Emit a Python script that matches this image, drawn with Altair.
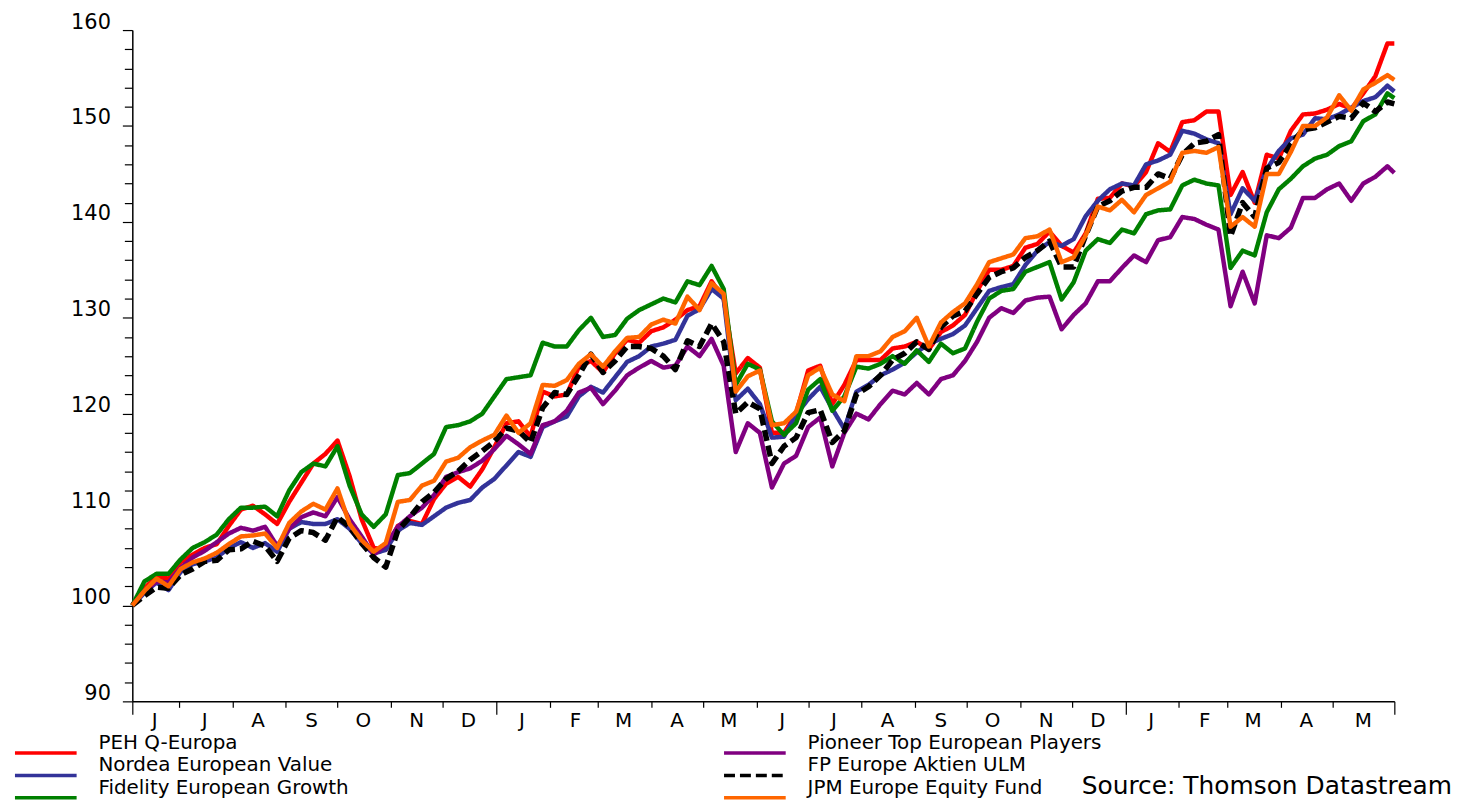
import altair as alt
import pandas as pd

# ---------------- data ----------------
START = "2005-06-04"
END = "2007-06-06"
N_WEEKS = 105

funds = ["PEH Q-Europa", "Nordea European Value", "Fidelity European Growth",
         "Pioneer Top European Players", "FP Europe Aktien ULM", "JPM Europe Equity Fund"]
colors = ["#FF0000", "#333399", "#008000", "#800080", "#000000", "#FF6600"]

peh = [100.0, 101.8, 103.0, 102.8, 104.5, 105.3, 106.0, 106.4, 108.3, 110.0,
       110.4, 109.5, 108.5, 110.8, 112.8, 114.8, 115.8, 117.2, 113.5, 109.0,
       106.0, 105.8, 108.3, 108.8, 108.5, 111.1, 112.7, 113.4, 112.4, 114.2,
       116.5, 119.0, 119.2, 117.6, 122.3, 121.8, 122.0, 124.9, 125.5, 124.3,
       126.3, 127.7, 127.4, 128.6, 129.0, 129.8, 130.8, 131.2, 133.8, 132.0,
       124.2, 125.8, 124.8, 118.0, 118.0, 120.0, 124.5, 125.0, 121.0, 123.0,
       125.6, 125.6, 125.6, 126.8, 127.0, 127.5, 126.7, 128.5, 129.2, 130.3,
       132.8, 135.0, 135.0, 135.4, 137.3, 137.7, 139.0, 137.5, 136.8, 138.8,
       142.4, 142.5, 144.0, 143.7, 145.2, 148.2, 147.3, 150.4, 150.6, 151.5,
       151.5, 142.8, 145.2, 142.0, 147.0, 146.6, 149.5, 151.2, 151.3, 151.7,
       152.3, 151.8, 153.4, 155.2, 158.6, 158.6]

nordea = [100.0, 101.3, 102.4, 101.6, 103.5, 104.3, 104.6, 105.0, 106.0, 106.6,
          106.0, 106.5, 105.6, 108.0, 108.7, 108.5, 108.5, 109.0, 108.0, 106.5,
          105.4, 105.8, 107.8, 108.6, 108.4, 109.3, 110.2, 110.7, 111.0, 112.3,
          113.2, 114.6, 116.0, 115.5, 118.6, 119.2, 119.7, 121.8, 122.8, 122.2,
          123.8, 125.4, 126.0, 127.0, 127.3, 127.7, 130.2, 130.9, 133.0, 132.0,
          121.4, 122.6, 121.0, 117.5, 117.6, 119.9, 121.5, 122.8, 120.5, 118.4,
          122.3, 123.0, 124.0, 124.6, 125.3, 126.4, 127.3, 127.8, 128.3, 129.2,
          131.0, 132.8, 133.2, 133.5, 135.5, 137.0, 137.9, 137.5, 138.2, 140.6,
          142.2, 143.4, 144.0, 143.8, 146.0, 146.4, 147.0, 149.5, 149.2, 148.6,
          148.2, 140.8, 143.5, 142.2, 145.5, 147.4, 148.7, 149.1, 150.8, 150.7,
          151.2, 151.9, 152.6, 153.0, 154.2, 153.6]

fidelity = [100.0, 102.5, 103.3, 103.3, 104.8, 106.0, 106.6, 107.4, 109.0, 110.2,
            110.2, 110.3, 109.3, 112.0, 113.9, 114.8, 114.5, 116.6, 112.5, 109.5,
            108.2, 109.5, 113.6, 113.8, 114.8, 115.8, 118.6, 118.8, 119.2, 120.0,
            121.8, 123.6, 123.8, 124.0, 127.4, 127.0, 127.0, 128.7, 130.0, 128.0,
            128.2, 129.9, 130.8, 131.4, 132.0, 131.6, 133.8, 133.4, 135.4, 133.0,
            123.0, 125.2, 124.6, 119.2, 117.8, 119.0, 122.5, 123.6, 120.3, 121.8,
            124.9, 124.7, 125.2, 126.0, 125.2, 126.6, 125.4, 127.3, 126.3, 126.8,
            129.6, 132.0, 132.8, 133.0, 134.8, 135.3, 135.8, 131.9, 133.7, 137.0,
            138.2, 137.8, 139.2, 138.8, 140.8, 141.2, 141.3, 143.8, 144.4, 144.0,
            143.8, 135.2, 137.0, 136.5, 141.0, 143.4, 144.5, 145.8, 146.6, 147.0,
            147.9, 148.4, 150.5, 151.2, 153.4, 152.9]

pioneer = [100.0, 101.5, 102.5, 102.4, 103.9, 105.0, 105.7, 106.6, 107.5, 108.1,
           107.8, 108.2, 106.2, 108.0, 109.2, 109.7, 109.3, 111.3, 109.0, 107.2,
           105.3, 106.3, 108.2, 109.3, 110.2, 111.5, 113.4, 113.9, 114.3, 115.1,
           116.3, 117.7, 116.8, 115.8, 118.8, 119.2, 120.3, 122.2, 122.7, 121.0,
           122.4, 124.0, 124.8, 125.5, 124.8, 125.0, 127.0, 126.0, 127.8, 125.0,
           116.0, 119.0, 118.0, 112.3, 114.8, 115.6, 118.6, 119.6, 114.5, 118.0,
           120.0, 119.4, 121.0, 122.4, 122.0, 123.2, 122.0, 123.6, 124.0, 125.5,
           127.5, 130.0, 131.0, 130.5, 131.8, 132.1, 132.2, 128.8, 130.3, 131.5,
           133.8, 133.8, 135.2, 136.5, 135.8, 138.1, 138.4, 140.5, 140.3, 139.7,
           139.2, 131.2, 134.8, 131.5, 138.6, 138.3, 139.4, 142.5, 142.5, 143.4,
           144.0, 142.2, 144.0, 144.7, 145.8, 145.1]

fp = [100.0, 101.0, 101.9, 101.8, 103.2, 103.8, 104.6, 104.7, 105.8, 105.9,
      106.7, 106.2, 104.6, 107.0, 107.8, 107.6, 106.8, 109.2, 108.2, 106.5,
      105.0, 104.0, 107.8, 109.2, 110.8, 111.8, 113.2, 114.0, 115.2, 116.1,
      117.1, 118.5, 118.2, 117.0, 120.6, 122.2, 122.0, 124.0, 126.2, 124.3,
      125.5, 127.0, 127.0, 126.8, 126.0, 124.6, 127.6, 127.0, 129.4, 127.5,
      120.0, 121.2, 120.5, 114.8, 116.6, 117.5, 120.1, 120.4, 117.0, 118.2,
      122.0, 122.8, 124.0, 125.6, 126.3, 127.5, 126.7, 129.0, 130.2, 130.7,
      132.5, 134.2, 134.8, 135.2, 136.3, 137.0, 138.0, 135.3, 135.3, 138.6,
      141.6, 142.2, 143.2, 143.6, 143.6, 145.0, 144.5, 147.0, 148.2, 148.4,
      149.1, 138.5, 142.0, 140.5, 145.6, 146.2, 148.1, 149.6, 149.8, 150.4,
      151.0, 150.8, 152.4, 151.5, 152.5, 152.3]

jpm = [100.0, 101.5, 102.8, 102.0, 103.8, 104.5, 104.9, 105.5, 106.4, 107.2,
       107.3, 107.5, 106.0, 108.6, 109.8, 110.6, 110.0, 112.2, 108.5, 106.8,
       105.6, 106.5, 110.8, 111.0, 112.5, 113.0, 115.0, 115.4, 116.5, 117.2,
       117.8, 119.8, 118.0, 119.0, 123.0, 122.9, 123.5, 125.2, 126.2, 124.9,
       126.5, 127.9, 128.0, 129.3, 129.8, 129.4, 132.2, 130.8, 133.6, 132.5,
       122.3, 123.9, 124.5, 118.8, 119.0, 120.2, 124.0, 124.8, 122.0, 121.3,
       126.0, 126.0, 126.5, 128.0, 128.6, 130.0, 127.0, 129.5, 130.6, 131.5,
       133.5, 135.8, 136.2, 136.6, 138.3, 138.5, 139.2, 135.8, 136.3, 138.6,
       141.6, 141.2, 142.3, 141.0, 142.8, 143.5, 144.2, 147.2, 147.4, 147.2,
       147.8, 139.5, 140.5, 139.5, 145.0, 145.0, 147.3, 150.0, 150.0, 150.9,
       153.2, 151.6, 153.8, 154.5, 155.3, 154.8]

series_values = [peh, nordea, fidelity, pioneer, fp, jpm]

month_letters = ["J", "J", "A", "S", "O", "N", "D", "J", "F", "M", "A", "M",
                 "J", "J", "A", "S", "O", "N", "D", "J", "F", "M", "A", "M"]
month_mid_dates = ["2005-06-17"] + [
    f"{2005 + (6 + i) // 12}-{(6 + i) % 12 + 1:02d}-16" for i in range(22)
] + ["2007-05-19"]

y_ticks = list(range(90, 161, 2))
SOURCE = "Source: Thomson Datastream"

# ---------------- tables ----------------
dates = list(pd.date_range(START, periods=N_WEEKS, freq="7D")) + [pd.Timestamp(END)]
rows = []
for name, vals in zip(funds, series_values):
    for d, v in zip(dates, vals):
        rows.append({"date": d.strftime("%Y-%m-%dT00:00:00"), "fund": name, "value": v})
df = pd.DataFrame(rows)

months_df = pd.DataFrame({"date": [d + "T00:00:00" for d in month_mid_dates],
                          "lab": month_letters})

# legend fills column by column: left column = first three funds
legend_order = funds
color_map = dict(zip(funds, colors))
dash_map = {f: [1, 0] for f in funds}
dash_map[funds[4]] = [11, 5]

FONT = "DejaVu Sans"

x_tick_values = [alt.DateTime(year=2005, month=6, date=4)]
for i in range(23):
    yy = 2005 + (6 + i) // 12
    mm = (6 + i) % 12 + 1
    x_tick_values.append(alt.DateTime(year=yy, month=mm, date=1))
x_tick_values.append(alt.DateTime(year=2007, month=6, date=6))

x_scale = alt.Scale(domain=[alt.DateTime(year=2005, month=6, date=4),
                            alt.DateTime(year=2007, month=6, date=6)])
y_scale = alt.Scale(domain=[90, 160], nice=False, zero=False)

x_axis = alt.Axis(values=x_tick_values, labels=False, title=None, grid=False,
                  domainColor="black", domainWidth=1.5, tickColor="black", tickWidth=1.2,
                  tickSize={"condition": {"test": "(month(datum.value) === 0 && date(datum.value) === 1) || date(datum.value) !== 1",
                                          "value": 13}, "value": 6})
y_axis = alt.Axis(values=y_ticks, title=None, grid=False,
                  labelExpr="datum.value % 10 === 0 ? datum.label : ''",
                  labelFont=FONT, labelFontSize=21, labelColor="black",
                  labelBaseline="alphabetic", labelOffset=-2, labelPadding=12,
                  labelOverlap=False,
                  domainColor="black", domainWidth=1.5, tickColor="black", tickWidth=1.2,
                  tickSize={"condition": {"test": "datum.value % 10 === 0", "value": 10}, "value": 8})

legend = alt.Legend(orient="none", legendX=-99, legendY=715, columns=2, title=None,
                    symbolType="M-3.1,0H3.1", symbolSize=400, symbolStrokeWidth=3.5,
                    labelFont=FONT, labelFontSize=20, labelColor="black", labelOffset=41,
                    labelBaseline="bottom", labelLimit=0,
                    rowPadding=-4.5, columnPadding=370, padding=0)

color_enc = alt.Color("fund:N", scale=alt.Scale(domain=legend_order,
                                                range=[color_map[f] for f in legend_order]),
                      legend=legend)
dash_enc = alt.StrokeDash("fund:N", scale=alt.Scale(domain=legend_order,
                                                    range=[dash_map[f] for f in legend_order]),
                          legend=legend)

layers = []
for f in funds:
    width = 5.5 if f == funds[4] else 4.5
    layers.append(
        alt.Chart(df).transform_filter(alt.datum.fund == f)
        .mark_line(strokeWidth=width, strokeCap="butt", strokeJoin="round")
        .encode(x=alt.X("date:T", scale=x_scale, axis=x_axis),
                y=alt.Y("value:Q", scale=y_scale, axis=y_axis),
                color=color_enc, strokeDash=dash_enc)
    )

month_text = alt.Chart(months_df).mark_text(font=FONT, fontSize=20, color="black",
                                            align="center", baseline="middle").encode(
    x=alt.X("date:T", scale=x_scale, axis=x_axis),
    y=alt.value(695),
    text="lab:N")

source_text = alt.Chart(pd.DataFrame({"src": [SOURCE]})).mark_text(
    font=FONT, fontSize=25, color="black", align="right", baseline="alphabetic").encode(
    x=alt.value(1327), y=alt.value(768), text="src:N")

chart = alt.layer(*layers, month_text, source_text).properties(
    width=1269, height=675,
    autosize=alt.AutoSizeParams(type="none"),
    padding={"left": 125, "top": 20, "right": 61, "bottom": 97},
    background="white",
).configure_view(stroke=None)

chart.save("out.html", embed_options={"renderer": "svg", "actions": False})
